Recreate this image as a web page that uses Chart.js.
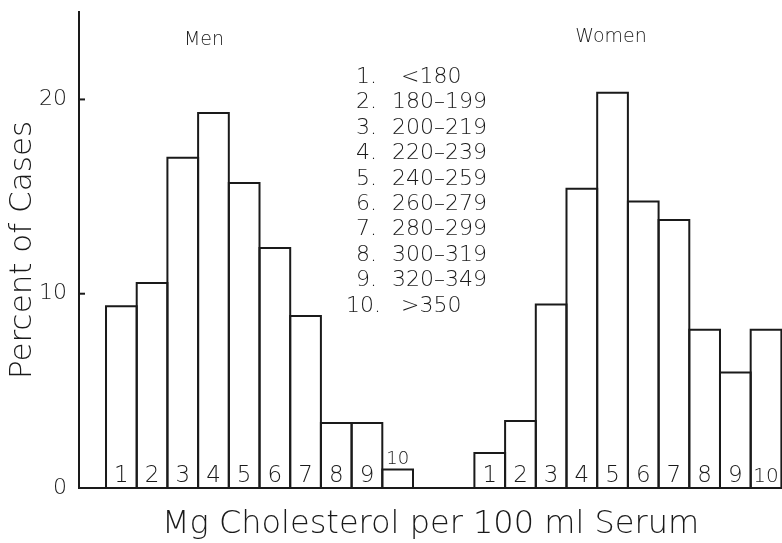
<!DOCTYPE html>
<html lang="en">
<head>
<meta charset="UTF-8">
<title>Serum Cholesterol Distribution</title>
<script src="https://cdn.jsdelivr.net/npm/chart.js"></script>
<style>
  body { margin: 0; background: #fff; }
  .chart-box { position: relative; width: 782px; height: 543px; }
</style>
</head>
<body>
<div class="chart-box"><canvas id="cholChart"></canvas></div>
<script>
const groupNames = ['Men', 'Women'];
const classNumbers = ['1', '2', '3', '4', '5', '6', '7', '8', '9', '10'];
const cholesterolRanges = ['<180', '180–199', '200–219', '220–239', '240–259',
                           '260–279', '280–299', '300–319', '320–349', '>350'];
const menPercent = [9.35, 10.55, 17.0, 19.3, 15.7, 12.35, 8.85, 3.35, 3.35, 0.95];
const womenPercent = [1.8, 3.45, 9.45, 15.4, 20.35, 14.75, 13.8, 8.15, 5.95, 8.15];
const yTicks = [0, 10, 20];

// men sit in slots 1-10, women in 13-22, two empty slots between the groups
const menX = classNumbers.map((_, i) => i + 1);
const womenX = classNumbers.map((_, i) => i + 13);

const INK = '#1a1a1a';
const FAMILY = "'DejaVu Sans', sans-serif";
const WEIGHT = 300;
const font = (size, lineHeight) => ({ family: FAMILY, weight: WEIGHT, size, lineHeight: lineHeight || 1.2 });
const cssFont = size => `${WEIGHT} ${size}px ${FAMILY}`;

// open-bottom outlines so neighbouring bars share a single line
const barOutline = {
  id: 'barOutline',
  afterDatasetsDraw(chart) {
    const ctx = chart.ctx;
    ctx.save();
    ctx.strokeStyle = INK;
    ctx.lineWidth = 2;
    chart.data.datasets.forEach((ds, di) => {
      chart.getDatasetMeta(di).data.forEach(bar => {
        const { x, y, base, width } = bar.getProps(['x', 'y', 'base', 'width'], true);
        const l = x - width / 2, r = x + width / 2;
        ctx.beginPath();
        ctx.moveTo(l, base);
        ctx.lineTo(l, y);
        ctx.lineTo(r, y);
        ctx.lineTo(r, base);
        ctx.stroke();
      });
    });
    ctx.restore();
  }
};

// class numbers, inward y ticks, group headings and the range key
const annotations = {
  id: 'annotations',
  afterDraw(chart) {
    const ctx = chart.ctx;
    const yScale = chart.scales.y;
    const left = chart.chartArea.left;
    ctx.save();
    ctx.fillStyle = INK;
    ctx.strokeStyle = INK;

    ctx.lineWidth = 2;
    yTicks.filter(v => v > 0).forEach(v => {
      const py = yScale.getPixelForValue(v);
      ctx.beginPath();
      ctx.moveTo(left, py);
      ctx.lineTo(left + 6, py);
      ctx.stroke();
    });

    ctx.textAlign = 'center';
    ctx.textBaseline = 'alphabetic';
    chart.data.datasets.forEach((ds, di) => {
      chart.getDatasetMeta(di).data.forEach((bar, i) => {
        const { x, y, base } = bar.getProps(['x', 'y', 'base'], true);
        if (base - y < 24) {
          ctx.font = cssFont(18);
          ctx.fillText(classNumbers[i], x, y - 6);
        } else {
          ctx.font = cssFont(classNumbers[i].length > 1 ? 20 : 23);
          ctx.fillText(classNumbers[i], x, base - 6);
        }
      });
    });

    ctx.font = cssFont(19);
    ctx.fillText(groupNames[0], 204, 45);
    ctx.fillText(groupNames[1], 611, 42);

    ctx.font = cssFont(22);
    ctx.textAlign = 'left';
    cholesterolRanges.forEach((range, i) => {
      const baseline = 83 + i * 25.4;
      const last = i === cholesterolRanges.length - 1;
      ctx.fillText(classNumbers[i] + '.', last ? 346 : 356, baseline);
      const indent = (i === 0 || last) ? 401 : 392;
      ctx.fillText(range, indent, baseline);
    });
    ctx.restore();
  }
};

new Chart(document.getElementById('cholChart'), {
  type: 'bar',
  data: {
    datasets: [
      {
        label: groupNames[0],
        data: menPercent.map((v, i) => ({ x: menX[i], y: v })),
        backgroundColor: '#fff',
        borderWidth: 0
      },
      {
        label: groupNames[1],
        data: womenPercent.map((v, i) => ({ x: womenX[i], y: v })),
        backgroundColor: '#fff',
        borderWidth: 0
      }
    ]
  },
  options: {
    responsive: true,
    maintainAspectRatio: false,
    animation: false,
    layout: { padding: { top: 12, right: 0, bottom: 0, left: 0 } },
    datasets: {
      bar: { grouped: false, barPercentage: 1, categoryPercentage: 1 }
    },
    plugins: {
      legend: { display: false },
      tooltip: { enabled: false }
    },
    scales: {
      x: {
        type: 'linear',
        offset: false,
        min: -0.38,
        max: 22.52,
        afterBuildTicks: s => { s.ticks = [...menX, ...womenX].map(v => ({ value: v })); },
        afterFit: s => { s.height = 55; s.paddingLeft = 0; s.paddingRight = 0; },
        ticks: { display: false },
        grid: { display: false },
        // baseline goes on top of the bar fills
        border: { display: true, color: INK, width: 2, z: 1 },
        title: {
          display: true,
          text: 'Mg Cholesterol per 100 ml Serum',
          color: INK,
          font: font(32, 1),
          padding: { top: 0, bottom: 2 }
        }
      },
      y: {
        min: 0,
        max: 24.5,
        afterBuildTicks: s => { s.ticks = yTicks.map(v => ({ value: v })); },
        afterFit: s => { s.width = 79; s.paddingTop = 0; s.paddingBottom = 0; },
        grid: { display: false },
        border: { display: true, color: INK, width: 2, z: 1 },
        ticks: { color: INK, padding: 4, font: font(22, 1) },
        title: {
          display: true,
          text: 'Percent of Cases',
          color: INK,
          font: font(31, 1),
          padding: { top: 7, bottom: 0 }
        }
      }
    }
  },
  plugins: [barOutline, annotations]
});
</script>
</body>
</html>
